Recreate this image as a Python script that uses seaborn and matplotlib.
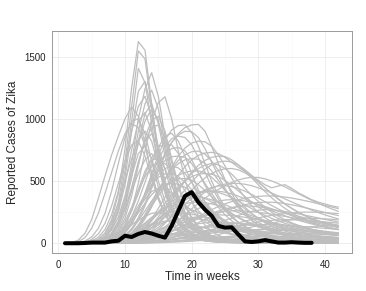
import matplotlib
matplotlib.use("Agg")
import matplotlib.pyplot as plt
import pandas as pd
import seaborn as sns
from matplotlib.ticker import MultipleLocator

# time axis shared by all simulated runs
weeks = list(range(1, 43))

# observed Zika reports
observed_weeks = list(range(1, 39))
observed_cases = [0, 0, 0, 2, 5, 5, 5, 15, 20, 60,
                  50, 75, 90, 78, 60, 45, 140, 260, 380, 410,
                  330, 270, 220, 140, 125, 128, 70, 15, 10, 15,
                  25, 15, 5, 5, 8, 5, 3, 3]

# simulated runs peaking early (weeks 11-16)
early_runs = [
    [0, 0, 1, 3, 10, 30, 80, 190, 400, 760,
     1250, 1620, 1550, 1120, 720, 440, 270, 170, 110, 75,
     52, 38, 28, 21, 16, 12, 10, 8, 6, 5,
     4, 3, 3, 2, 2, 2, 1, 1, 1, 1, 1, 1],
    [0, 0, 1, 2, 8, 22, 60, 150, 330, 650,
     1100, 1545, 1480, 1080, 700, 430, 260, 160, 100, 68,
     46, 32, 23, 17, 13, 10, 8, 6, 5, 4,
     3, 3, 2, 2, 2, 1, 1, 1, 1, 1, 0, 0],
    [0, 0, 1, 2, 6, 18, 50, 130, 290, 580,
     980, 1405, 1290, 960, 640, 400, 250, 160, 105, 72,
     50, 36, 26, 19, 14, 11, 8, 6, 5, 4,
     3, 2, 2, 2, 1, 1, 1, 1, 1, 1, 1, 0],
    [0, 0, 0, 1, 4, 12, 32, 80, 180, 360,
     640, 1000, 1240, 1370, 1180, 860, 580, 380, 250, 165,
     110, 75, 52, 37, 27, 20, 15, 11, 8, 6,
     5, 4, 3, 2, 2, 2, 1, 1, 1, 1, 1, 1],
    [0, 0, 0, 1, 3, 10, 28, 70, 160, 320,
     580, 900, 1120, 1230, 1080, 800, 550, 360, 235, 155,
     100, 68, 47, 33, 24, 18, 13, 10, 8, 6,
     4, 3, 3, 2, 2, 1, 1, 1, 1, 1, 1, 0],
    [0, 0, 0, 0, 1, 4, 10, 26, 62, 135,
     270, 480, 740, 980, 1130, 1176, 1000, 740, 510, 340,
     220, 145, 96, 64, 43, 30, 21, 15, 11, 8,
     6, 5, 4, 3, 2, 2, 2, 1, 1, 1, 1, 1],
    [0, 5, 25, 80, 190, 360, 540, 710, 860, 1000,
     1096, 1020, 800, 560, 370, 240, 155, 100, 65, 43,
     29, 20, 14, 10, 7, 5, 4, 3, 2, 2,
     2, 1, 1, 1, 1, 1, 0, 0, 0, 0, 0, 0],
    [0, 0, 0, 2, 6, 18, 48, 115, 250, 470,
     750, 980, 1050, 900, 650, 430, 280, 180, 118, 78,
     53, 36, 25, 18, 13, 10, 7, 5, 4, 3,
     3, 2, 2, 1, 1, 1, 1, 1, 0, 0, 0, 0],
    [0, 0, 0, 1, 3, 9, 24, 60, 140, 290,
     530, 820, 1040, 1120, 960, 700, 470, 310, 200, 130,
     86, 57, 39, 27, 19, 14, 10, 8, 6, 4,
     3, 3, 2, 2, 1, 1, 1, 1, 1, 0, 0, 0],
    [0, 2, 12, 45, 120, 240, 400, 570, 740, 880,
     960, 930, 780, 560, 370, 240, 155, 100, 65, 43,
     29, 20, 14, 10, 7, 5, 4, 3, 2, 2,
     1, 1, 1, 1, 1, 0, 0, 0, 0, 0, 0, 0],
    [0, 0, 0, 1, 3, 8, 20, 50, 115, 235,
     430, 650, 820, 880, 780, 590, 410, 275, 180, 118,
     78, 52, 36, 25, 18, 13, 10, 7, 5, 4,
     3, 2, 2, 2, 1, 1, 1, 1, 0, 0, 0, 0],
    [0, 0, 0, 1, 4, 12, 32, 78, 170, 330,
     540, 720, 780, 680, 500, 340, 225, 148, 97, 64,
     43, 30, 21, 15, 11, 8, 6, 5, 4, 3,
     2, 2, 1, 1, 1, 1, 1, 0, 0, 0, 0, 0],
    [0, 0, 0, 2, 6, 17, 46, 115, 260, 520,
     900, 1220, 1300, 1080, 760, 490, 310, 195, 125, 82,
     55, 38, 27, 19, 14, 10, 8, 6, 4, 3,
     3, 2, 2, 1, 1, 1, 1, 1, 0, 0, 0, 0],
    [0, 0, 0, 0, 2, 6, 16, 40, 95, 200,
     380, 620, 850, 990, 1020, 900, 680, 470, 315, 208,
     137, 91, 61, 41, 29, 21, 15, 11, 8, 6,
     4, 3, 3, 2, 2, 1, 1, 1, 1, 1, 0, 0],
    [0, 0, 0, 0, 2, 5, 13, 32, 72, 145,
     270, 430, 580, 670, 680, 600, 470, 340, 235, 160,
     108, 73, 50, 35, 25, 18, 13, 10, 7, 5,
     4, 3, 2, 2, 2, 1, 1, 1, 1, 0, 0, 0],
    [0, 1, 5, 18, 50, 120, 240, 420, 640, 850,
     980, 1000, 880, 660, 450, 290, 185, 118, 76, 50,
     34, 23, 16, 12, 9, 7, 5, 4, 3, 2,
     2, 1, 1, 1, 1, 1, 0, 0, 0, 0, 0, 0],
    [0, 0, 2, 6, 18, 48, 110, 230, 420, 660,
     900, 1100, 1180, 1020, 740, 480, 300, 190, 120, 78,
     52, 35, 24, 17, 12, 9, 7, 5, 4, 3,
     2, 2, 1, 1, 1, 1, 1, 0, 0, 0, 0, 0],
    [0, 0, 1, 4, 12, 32, 80, 170, 320, 500,
     680, 830, 900, 820, 620, 420, 270, 172, 110, 72,
     48, 33, 23, 16, 12, 9, 7, 5, 4, 3,
     2, 2, 1, 1, 1, 1, 0, 0, 0, 0, 0, 0],
    [0, 0, 0, 2, 6, 18, 45, 105, 210, 380,
     590, 800, 980, 1080, 990, 760, 520, 340, 220, 142,
     92, 61, 41, 28, 20, 14, 10, 8, 6, 4,
     3, 3, 2, 2, 1, 1, 1, 1, 0, 0, 0, 0],
    [0, 1, 3, 10, 30, 75, 160, 300, 480, 660,
     790, 820, 700, 520, 350, 225, 145, 94, 61, 40,
     27, 18, 13, 9, 7, 5, 4, 3, 2, 2,
     1, 1, 1, 1, 0, 0, 0, 0, 0, 0, 0, 0],
    [0, 0, 0, 1, 4, 11, 28, 65, 140, 270,
     450, 650, 820, 930, 950, 850, 650, 450, 300, 195,
     127, 84, 56, 38, 27, 19, 14, 10, 8, 6,
     4, 3, 3, 2, 2, 1, 1, 1, 1, 0, 0, 0],
    [0, 0, 0, 1, 5, 14, 35, 80, 160, 280,
     420, 560, 670, 720, 650, 500, 360, 250, 170, 115,
     78, 53, 37, 26, 19, 14, 10, 8, 6, 5,
     4, 3, 2, 2, 2, 1, 1, 1, 1, 0, 0, 0],
]

# simulated runs peaking mid season (weeks 17-27)
mid_runs = [
    [0, 0, 0, 0, 1, 2, 5, 12, 26, 55,
     105, 185, 300, 440, 580, 710, 810, 880, 930, 950,
     955, 900, 780, 640, 510, 400, 310, 240, 185, 145,
     115, 92, 74, 60, 49, 40, 33, 28, 24, 21, 18, 16],
    [0, 0, 0, 0, 1, 3, 8, 18, 40, 80,
     150, 260, 400, 560, 710, 830, 910, 945, 950, 890,
     780, 640, 500, 380, 290, 220, 168, 130, 100, 80,
     64, 52, 43, 36, 30, 26, 22, 19, 17, 15, 13, 12],
    [0, 0, 0, 1, 2, 5, 12, 28, 60, 118,
     210, 340, 490, 640, 770, 860, 883, 820, 700, 560,
     430, 325, 245, 185, 140, 107, 83, 65, 52, 42,
     34, 28, 24, 20, 17, 15, 13, 11, 10, 9, 8, 7],
    [0, 0, 0, 0, 0, 1, 2, 5, 11, 22,
     42, 75, 125, 195, 280, 370, 460, 545, 615, 670,
     705, 725, 730, 720, 690, 650, 610, 576, 540, 505,
     470, 445, 460, 470, 440, 405, 378, 350, 330, 315, 300, 290],
    [0, 0, 0, 0, 0, 0, 1, 3, 7, 14,
     27, 48, 80, 125, 185, 260, 340, 420, 500, 570,
     625, 665, 690, 700, 696, 670, 630, 580, 525, 470,
     415, 365, 320, 280, 245, 215, 190, 168, 150, 135, 122, 110],
    [0, 0, 0, 0, 0, 0, 1, 2, 4, 8,
     15, 27, 45, 72, 110, 160, 220, 290, 360, 425,
     480, 525, 560, 585, 598, 600, 590, 565, 530, 490,
     445, 400, 355, 315, 280, 248, 220, 196, 175, 157, 141, 127],
    [0, 0, 0, 0, 1, 2, 6, 14, 30, 62,
     118, 205, 320, 460, 600, 720, 810, 870, 900, 895,
     850, 760, 650, 540, 440, 355, 285, 228, 183, 148,
     120, 98, 80, 66, 55, 46, 39, 33, 28, 24, 21, 18],
    [0, 0, 0, 0, 0, 1, 3, 8, 17, 35,
     68, 120, 195, 290, 400, 510, 610, 700, 765, 805,
     820, 815, 780, 710, 620, 525, 440, 365, 300, 248,
     205, 170, 142, 119, 100, 85, 72, 62, 53, 46, 40, 35],
    [0, 0, 0, 0, 1, 3, 8, 19, 42, 85,
     160, 265, 390, 520, 630, 715, 760, 770, 740, 670,
     570, 465, 370, 290, 228, 180, 143, 114, 92, 75,
     62, 51, 43, 36, 31, 27, 23, 20, 18, 16, 14, 13],
    [0, 0, 0, 0, 0, 1, 4, 9, 20, 42,
     82, 145, 230, 330, 430, 520, 590, 640, 670, 680,
     675, 640, 580, 505, 430, 360, 298, 245, 202, 167,
     138, 115, 96, 81, 69, 59, 51, 44, 38, 33, 29, 26],
    [0, 0, 0, 0, 1, 3, 9, 22, 48, 95,
     170, 265, 370, 470, 550, 600, 620, 605, 560, 490,
     410, 335, 270, 215, 172, 138, 112, 91, 75, 62,
     52, 44, 37, 32, 28, 24, 21, 19, 17, 15, 13, 12],
    [0, 0, 0, 0, 0, 1, 2, 5, 11, 22,
     42, 75, 120, 180, 250, 320, 390, 450, 500, 535,
     555, 560, 555, 535, 505, 465, 420, 375, 332, 292,
     257, 226, 199, 176, 156, 139, 124, 111, 100, 90, 82, 75],
    [0, 0, 0, 0, 1, 2, 6, 14, 30, 60,
     110, 180, 260, 340, 410, 465, 500, 518, 520, 505,
     470, 425, 375, 325, 280, 240, 205, 175, 150, 130,
     112, 98, 86, 76, 68, 61, 55, 50, 46, 42, 39, 36],
    [0, 0, 0, 1, 2, 6, 15, 36, 78, 150,
     260, 400, 550, 680, 770, 800, 790, 720, 610, 490,
     380, 290, 220, 166, 126, 97, 76, 60, 48, 39,
     32, 27, 23, 20, 17, 15, 13, 12, 11, 10, 9, 8],
    [0, 0, 0, 1, 3, 8, 20, 46, 95, 175,
     290, 420, 535, 615, 650, 640, 590, 510, 420, 335,
     262, 203, 157, 122, 96, 76, 61, 49, 40, 33,
     27, 23, 20, 17, 15, 13, 12, 10, 9, 8, 7, 7],
    [0, 0, 0, 0, 1, 3, 8, 20, 45, 90,
     165, 270, 400, 540, 670, 775, 840, 860, 850, 790,
     690, 570, 455, 355, 275, 212, 165, 128, 100, 80,
     64, 52, 43, 36, 30, 26, 22, 19, 17, 15, 13, 12],
    [0, 0, 0, 0, 0, 1, 3, 8, 18, 38,
     75, 130, 210, 310, 415, 515, 600, 665, 710, 735,
     740, 715, 660, 585, 500, 420, 350, 290, 240, 198,
     165, 137, 115, 97, 83, 71, 62, 54, 47, 42, 37, 33],
    [0, 0, 0, 0, 0, 0, 1, 3, 7, 15,
     30, 55, 92, 145, 210, 285, 365, 440, 505, 560,
     600, 628, 640, 630, 600, 555, 500, 440, 385, 335,
     290, 250, 217, 188, 164, 144, 127, 113, 100, 90, 81, 73],
    [0, 0, 0, 0, 1, 3, 9, 22, 48, 95,
     170, 270, 385, 500, 600, 665, 695, 700, 690, 640,
     565, 480, 400, 325, 262, 210, 168, 135, 110, 90,
     74, 61, 51, 43, 37, 32, 28, 24, 21, 19, 17, 15],
    [0, 0, 0, 0, 0, 1, 4, 10, 22, 45,
     85, 145, 220, 300, 380, 450, 505, 545, 570, 580,
     582, 565, 530, 480, 425, 370, 320, 275, 236, 202,
     174, 150, 130, 113, 99, 87, 77, 68, 61, 55, 50, 45],
    [0, 0, 0, 1, 2, 5, 12, 28, 58, 105,
     170, 245, 320, 390, 440, 470, 480, 475, 450, 410,
     360, 310, 262, 220, 183, 152, 127, 106, 89, 75,
     64, 55, 47, 41, 36, 32, 28, 25, 22, 20, 18, 16],
    [0, 0, 0, 0, 0, 0, 1, 2, 5, 10,
     20, 36, 62, 100, 150, 212, 285, 360, 430, 495,
     548, 595, 630, 652, 660, 652, 628, 590, 545, 495,
     445, 398, 354, 315, 280, 250, 223, 200, 180, 162, 147, 133],
    [0, 0, 0, 0, 0, 1, 3, 6, 13, 25,
     44, 72, 108, 150, 195, 242, 288, 330, 365, 392,
     410, 420, 418, 408, 390, 366, 338, 308, 278, 250,
     224, 200, 179, 160, 143, 128, 115, 104, 94, 85, 78, 71],
]

# smaller or later simulated runs
late_runs = [
    [0, 0, 0, 0, 0, 0, 1, 2, 4, 8,
     14, 24, 40, 62, 92, 130, 175, 225, 275, 325,
     370, 410, 440, 462, 475, 480, 480, 474, 462, 445,
     425, 403, 380, 356, 332, 309, 287, 266, 246, 228, 211, 195],
    [0, 0, 0, 0, 0, 1, 2, 4, 9, 17,
     31, 52, 82, 120, 165, 212, 260, 305, 345, 377,
     400, 414, 420, 418, 410, 396, 378, 356, 332, 308,
     284, 261, 240, 220, 201, 184, 169, 155, 142, 131, 121, 112],
    [0, 0, 0, 0, 0, 0, 0, 1, 2, 4,
     7, 12, 20, 32, 48, 68, 92, 120, 150, 182,
     213, 243, 270, 295, 316, 334, 349, 361, 370, 376,
     380, 380, 377, 371, 363, 353, 342, 330, 317, 304, 291, 278],
    [0, 0, 0, 0, 0, 1, 3, 7, 14, 26,
     45, 72, 105, 145, 188, 230, 268, 298, 318, 328,
     330, 326, 316, 302, 285, 266, 246, 226, 207, 189,
     172, 156, 142, 129, 118, 108, 99, 91, 84, 78, 72, 67],
    [0, 0, 0, 0, 0, 0, 1, 2, 5, 9,
     16, 26, 40, 57, 78, 100, 124, 148, 171, 192,
     211, 227, 240, 250, 256, 260, 260, 258, 254, 248,
     241, 233, 224, 215, 206, 196, 187, 178, 169, 160, 152, 144],
    [0, 0, 0, 0, 1, 2, 4, 9, 17, 30,
     48, 70, 95, 122, 148, 170, 186, 196, 200, 199,
     194, 186, 176, 165, 153, 141, 130, 120, 110, 101,
     93, 86, 79, 73, 68, 63, 59, 55, 51, 48, 45, 42],
    [0, 0, 0, 0, 0, 0, 0, 1, 2, 3,
     5, 8, 12, 18, 25, 34, 44, 55, 67, 79,
     90, 101, 111, 120, 128, 135, 141, 145, 148, 150,
     150, 149, 147, 144, 141, 137, 133, 129, 124, 120, 115, 111],
    [0, 0, 0, 0, 0, 0, 0, 1, 3, 6,
     11, 19, 32, 50, 75, 106, 143, 185, 230, 276,
     320, 362, 400, 433, 462, 488, 508, 522, 530, 528,
     518, 500, 478, 452, 425, 398, 371, 345, 320, 297, 276, 256],
    [0, 0, 0, 0, 0, 1, 2, 4, 7, 11,
     17, 24, 32, 41, 50, 59, 67, 75, 82, 88,
     93, 97, 99, 100, 99, 97, 95, 92, 88, 85,
     81, 77, 73, 70, 66, 63, 60, 57, 54, 51, 49, 46],
    [0, 0, 0, 0, 1, 3, 7, 15, 30, 52,
     82, 120, 163, 208, 248, 279, 297, 300, 290, 270,
     244, 216, 188, 162, 139, 118, 101, 86, 73, 62,
     53, 46, 40, 35, 31, 27, 24, 22, 20, 18, 16, 15],
    [0, 0, 0, 1, 2, 6, 14, 32, 65, 118,
     190, 275, 355, 415, 440, 435, 405, 360, 310, 260,
     214, 174, 140, 113, 91, 74, 60, 49, 41, 34,
     29, 25, 21, 18, 16, 14, 13, 11, 10, 9, 8, 8],
    [0, 0, 0, 0, 0, 0, 1, 2, 3, 5,
     7, 10, 13, 17, 21, 25, 29, 33, 37, 40,
     43, 46, 48, 50, 52, 53, 54, 55, 55, 55,
     55, 54, 53, 52, 51, 50, 49, 48, 47, 46, 45, 44],
    [0, 0, 0, 0, 0, 0, 0, 0, 1, 2,
     3, 5, 8, 12, 17, 23, 31, 40, 51, 63,
     76, 90, 105, 120, 135, 150, 164, 178, 191, 203,
     214, 224, 232, 239, 244, 248, 250, 250, 249, 246, 242, 238],
    [0, 0, 0, 0, 1, 2, 5, 11, 22, 40,
     66, 100, 142, 188, 235, 278, 315, 343, 362, 370,
     370, 362, 348, 330, 309, 287, 264, 242, 221, 201,
     183, 166, 151, 138, 126, 115, 105, 96, 88, 81, 75, 69],
    [0, 0, 0, 0, 0, 0, 1, 2, 4, 7,
     12, 19, 29, 42, 58, 77, 99, 123, 148, 173,
     197, 220, 241, 259, 275, 288, 296, 300, 298, 292,
     283, 272, 259, 245, 231, 217, 203, 190, 177, 165, 154, 144],
    [0, 0, 0, 0, 0, 1, 2, 5, 10, 18,
     30, 45, 64, 85, 108, 131, 153, 173, 190, 204,
     215, 222, 226, 228, 226, 222, 216, 208, 199, 189,
     178, 167, 156, 146, 136, 127, 118, 110, 103, 96, 90, 84],
    [0, 0, 0, 1, 2, 5, 11, 21, 36, 55,
     78, 102, 126, 148, 165, 177, 180, 176, 166, 152,
     137, 121, 106, 93, 81, 71, 62, 55, 48, 43,
     38, 34, 30, 27, 25, 23, 21, 19, 17, 16, 15, 14],
    [0, 0, 0, 0, 0, 0, 1, 3, 6, 11,
     19, 30, 46, 66, 91, 120, 152, 185, 218, 250,
     278, 303, 323, 338, 347, 350, 347, 339, 327, 312,
     295, 277, 258, 240, 222, 205, 189, 174, 160, 148, 137, 127],
    [0, 0, 0, 0, 1, 2, 4, 7, 12, 19,
     28, 39, 51, 64, 77, 89, 100, 110, 118, 124,
     128, 130, 130, 128, 124, 119, 113, 107, 101, 95,
     89, 83, 78, 73, 68, 64, 60, 56, 53, 50, 47, 44],
    [0, 0, 0, 0, 0, 0, 0, 0, 1, 1,
     2, 3, 5, 7, 9, 12, 15, 19, 23, 27,
     32, 37, 42, 47, 52, 57, 62, 66, 70, 73,
     76, 78, 80, 80, 80, 79, 78, 76, 74, 72, 70, 68],
    [0, 0, 0, 0, 0, 0, 1, 3, 6, 12,
     22, 38, 60, 90, 127, 170, 218, 268, 316, 360,
     398, 428, 448, 460, 462, 455, 440, 418, 392, 363,
     333, 303, 275, 248, 223, 200, 180, 162, 146, 132, 119, 108],
    [0, 0, 0, 0, 0, 0, 0, 0, 1, 2,
     4, 7, 11, 17, 25, 35, 47, 61, 77, 94,
     112, 131, 150, 168, 185, 200, 223, 240, 255, 265,
     270, 268, 262, 255, 246, 236, 225, 214, 203, 192, 181, 171],
    [0, 0, 0, 0, 0, 0, 0, 0, 0, 1,
     1, 2, 3, 5, 7, 10, 14, 19, 25, 32,
     40, 49, 59, 70, 82, 94, 106, 118, 130, 141,
     152, 162, 172, 181, 189, 195, 200, 200, 198, 195, 192, 188],
    [0, 0, 0, 0, 0, 0, 1, 2, 4, 7,
     11, 17, 25, 34, 45, 57, 70, 83, 96, 108,
     120, 131, 141, 149, 155, 160, 160, 157, 152, 146,
     139, 132, 124, 117, 110, 103, 96, 90, 84, 79, 74, 69],
    [0, 0, 0, 0, 1, 3, 7, 15, 28, 48,
     76, 112, 155, 202, 250, 295, 335, 365, 385, 390,
     380, 360, 332, 300, 268, 237, 208, 182, 159, 139,
     122, 107, 94, 83, 74, 66, 59, 53, 48, 43, 39, 36],
    [0, 0, 0, 1, 3, 8, 19, 40, 78, 135,
     210, 300, 390, 470, 530, 558, 560, 535, 490, 430,
     365, 305, 250, 203, 165, 134, 109, 89, 73, 60,
     50, 42, 35, 30, 26, 22, 19, 17, 15, 13, 12, 11],
]

# runs that stay small and fill the bottom of the band
low_runs = [
    [0, 0, 0, 0, 1, 2, 4, 7, 11, 16,
     22, 29, 36, 43, 49, 54, 58, 60, 60, 59,
     57, 54, 51, 48, 45, 42, 39, 36, 33, 31,
     29, 27, 25, 23, 21, 20, 19, 17, 16, 15, 14, 13],
    [0, 0, 0, 0, 0, 0, 0, 1, 1, 2,
     4, 6, 9, 13, 18, 24, 31, 39, 47, 56,
     65, 73, 81, 88, 94, 99, 103, 106, 108, 110,
     110, 109, 107, 105, 102, 99, 96, 93, 90, 87, 84, 81],
    [0, 0, 0, 0, 0, 1, 1, 2, 3, 4,
     6, 8, 10, 12, 14, 16, 18, 20, 22, 24,
     25, 26, 27, 28, 29, 30, 30, 30, 30, 29,
     29, 28, 28, 27, 27, 26, 26, 25, 25, 24, 24, 23],
    [0, 0, 0, 0, 0, 0, 0, 0, 1, 2,
     3, 5, 8, 12, 17, 23, 30, 38, 47, 57,
     68, 80, 92, 104, 116, 128, 140, 151, 161, 170,
     178, 184, 188, 190, 189, 187, 184, 180, 176, 171, 166, 161],
    [0, 0, 0, 0, 1, 3, 7, 14, 26, 43,
     66, 94, 125, 157, 187, 212, 230, 239, 240, 234,
     222, 206, 188, 169, 151, 134, 118, 104, 92, 81,
     72, 64, 57, 51, 46, 41, 37, 34, 31, 28, 26, 24],
    [0, 0, 0, 0, 0, 0, 0, 0, 0, 0,
     1, 1, 2, 3, 4, 6, 8, 10, 13, 16,
     20, 24, 29, 34, 40, 46, 53, 60, 67, 75,
     83, 91, 99, 107, 115, 122, 128, 133, 137, 140, 140, 139],
    [0, 0, 0, 1, 2, 5, 10, 18, 29, 42,
     56, 70, 82, 90, 90, 86, 79, 71, 63, 55,
     48, 42, 37, 32, 28, 25, 22, 19, 17, 15,
     14, 12, 11, 10, 9, 8, 7, 7, 6, 6, 5, 5],
    [0, 0, 0, 0, 0, 0, 0, 1, 2, 4,
     7, 11, 17, 26, 38, 53, 71, 92, 115, 140,
     166, 192, 217, 240, 261, 280, 296, 310, 320, 327,
     330, 329, 325, 318, 309, 298, 286, 273, 260, 247, 234, 222],
    [0, 0, 0, 0, 0, 1, 2, 4, 8, 14,
     22, 32, 44, 58, 73, 89, 105, 120, 134, 146,
     156, 164, 169, 170, 168, 164, 158, 151, 143, 135,
     127, 119, 111, 104, 97, 91, 85, 79, 74, 69, 65, 61],
    [0, 0, 1, 3, 8, 18, 34, 56, 84, 116,
     150, 185, 215, 240, 248, 236, 210, 178, 146, 117,
     93, 73, 57, 45, 35, 28, 22, 18, 14, 12,
     10, 8, 7, 6, 5, 5, 4, 4, 3, 3, 3, 2],
]

x_ticks = [0, 10, 20, 30, 40]
y_ticks = [0, 500, 1000, 1500]

# long format for seaborn, one unit per simulated run
rows = []
for run_id, run in enumerate(early_runs + mid_runs + late_runs + low_runs):
    assert len(run) == len(weeks), (run_id, len(run))
    for week, cases in zip(weeks, run):
        rows.append((run_id, week, cases))
df_sim = pd.DataFrame(rows, columns=["run", "week", "cases"])
df_obs = pd.DataFrame({"week": observed_weeks, "cases": observed_cases})

sns.set_style("white")
plt.rcParams["font.family"] = ["Liberation Sans", "DejaVu Sans"]

fig = plt.figure(figsize=(3.66, 2.91), dpi=100)
ax = fig.add_axes([52 / 366, 37.7 / 291, 300 / 366, 222.3 / 291])

sns.lineplot(data=df_sim, x="week", y="cases", units="run", estimator=None,
             color="#BEBEBE", linewidth=0.9, ax=ax)
sns.lineplot(data=df_obs, x="week", y="cases", color="black",
             linewidth=2.9, ax=ax)

ax.set_xlim(-0.95, 44.05)
ax.set_ylim(-81, 1705)
ax.set_xticks(x_ticks)
ax.set_yticks(y_ticks)
ax.xaxis.set_minor_locator(MultipleLocator(5))
ax.yaxis.set_minor_locator(MultipleLocator(250))

ax.set_axisbelow(True)
ax.grid(True, which="major", color="#EBEBEB", linewidth=0.6)
ax.grid(True, which="minor", color="#F7F7F7", linewidth=0.4)
for spine in ax.spines.values():
    spine.set_color("#9A9A9A")
    spine.set_linewidth(0.7)

ax.tick_params(which="major", direction="out", length=3, width=0.6,
               color="#333333", labelsize=7, labelcolor="#222222", pad=1.5)
ax.tick_params(which="minor", length=0)

ax.set_xlabel("Time in weeks", fontsize=8.5, labelpad=1)
ax.set_ylabel("Reported Cases of Zika", fontsize=8.5, labelpad=4)

fig.savefig("out.png", dpi=100)
plt.close(fig)
